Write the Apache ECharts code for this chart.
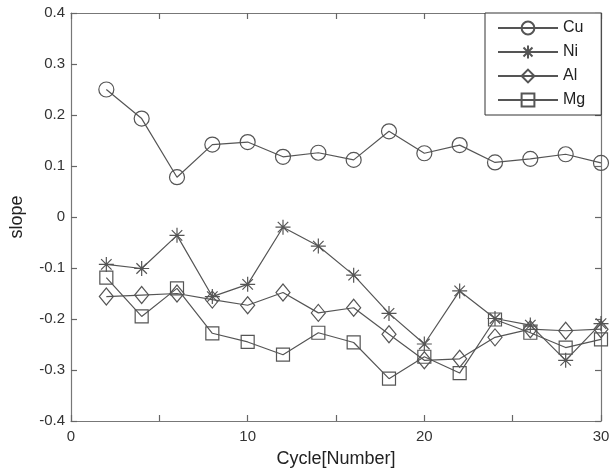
<!DOCTYPE html>
<html>
<head>
<meta charset="utf-8">
<script src="https://cdn.jsdelivr.net/npm/echarts@6/dist/echarts.min.js"></script>
<style>
  html, body { margin: 0; padding: 0; background: #fff; }
  #chart { width: 613px; height: 473px; }
</style>
</head>
<body>
<div id="chart"></div>
<script>
const cycles = [2, 4, 6, 8, 10, 12, 14, 16, 18, 20, 22, 24, 26, 28, 30];
const cu = [0.25, 0.193, 0.078, 0.142, 0.147, 0.118, 0.126, 0.112, 0.168, 0.125, 0.141, 0.107, 0.114, 0.123, 0.106];
const ni = [-0.093, -0.101, -0.036, -0.156, -0.132, -0.020, -0.057, -0.114, -0.189, -0.249, -0.145, -0.199, -0.212, -0.281, -0.209];
const al = [-0.156, -0.153, -0.150, -0.162, -0.173, -0.148, -0.188, -0.178, -0.230, -0.281, -0.278, -0.236, -0.220, -0.223, -0.220];
const mg = [-0.119, -0.195, -0.140, -0.228, -0.245, -0.270, -0.227, -0.246, -0.317, -0.274, -0.306, -0.201, -0.227, -0.256, -0.240];

const ink = '#555';
const font = 'Liberation Sans, Arial, sans-serif';
const star = 'path://M0,-10L0,10M-10,0L10,0M-7,-7L7,7M-7,7L7,-7';

function pairs(ys) {
  return cycles.map((x, i) => [x, ys[i]]);
}

function line(name, ys, symbol, size) {
  return {
    name: name,
    type: 'line',
    data: pairs(ys),
    symbol: symbol,
    symbolSize: size,
    showAllSymbol: true,
    lineStyle: { color: ink, width: 1.2 },
    itemStyle: { color: 'rgba(255,255,255,0)', borderColor: ink, borderWidth: 1.2 },
    emphasis: { disabled: true },
  };
}

const tickStyle = { show: true, inside: true, length: 6, lineStyle: { color: '#666', width: 1.2 } };
const axisLine = { show: true, onZero: false, lineStyle: { color: '#777', width: 1.2 } };

const chart = echarts.init(document.getElementById('chart'));
chart.setOption({
  animation: false,
  backgroundColor: '#fff',
  textStyle: { fontFamily: font },
  grid: { left: 62, right: 12, top: 13, bottom: 44 },
  legend: {
    left: 485,
    top: 13,
    orient: 'vertical',
    padding: [7, 16, 7, 12],
    itemWidth: 60,
    itemHeight: 16,
    itemGap: 8,
    borderColor: '#333',
    borderWidth: 1,
    backgroundColor: '#fff',
    borderRadius: 0,
    textStyle: { fontSize: 16, color: '#222', fontFamily: font },
    data: ['Cu', 'Ni', 'Al', 'Mg'],
  },
  xAxis: [
    {
      type: 'value', min: 0, max: 30, interval: 5,
      name: 'Cycle[Number]', nameLocation: 'middle', nameGap: 29,
      nameTextStyle: { fontSize: 18, color: '#222' },
      axisLine: axisLine, axisTick: tickStyle, splitLine: { show: false },
      axisLabel: { fontSize: 15, color: '#333', margin: 8,
        formatter: v => (v % 10 === 0 ? String(v) : '') },
    },
    {
      type: 'value', position: 'top', min: 0, max: 30, interval: 5,
      axisLine: axisLine, axisTick: tickStyle, splitLine: { show: false },
      axisLabel: { show: false },
    },
  ],
  yAxis: [
    {
      type: 'value', min: -0.4, max: 0.4, interval: 0.1,
      name: 'slope', nameLocation: 'middle', nameGap: 45,
      nameTextStyle: { fontSize: 18, color: '#222' },
      axisLine: axisLine, axisTick: tickStyle, splitLine: { show: false },
      axisLabel: { fontSize: 15, color: '#333', margin: 6,
        formatter: v => (Math.abs(v) < 1e-9 ? '0' : v.toFixed(1)) },
    },
    {
      type: 'value', position: 'right', min: -0.4, max: 0.4, interval: 0.1,
      axisLine: axisLine, axisTick: tickStyle, splitLine: { show: false },
      axisLabel: { show: false },
    },
  ],
  series: [
    line('Cu', cu, 'circle', 15),
    line('Ni', ni, star, 15),
    line('Al', al, 'diamond', [14, 17]),
    line('Mg', mg, 'rect', 13),
  ],
});
</script>
</body>
</html>
